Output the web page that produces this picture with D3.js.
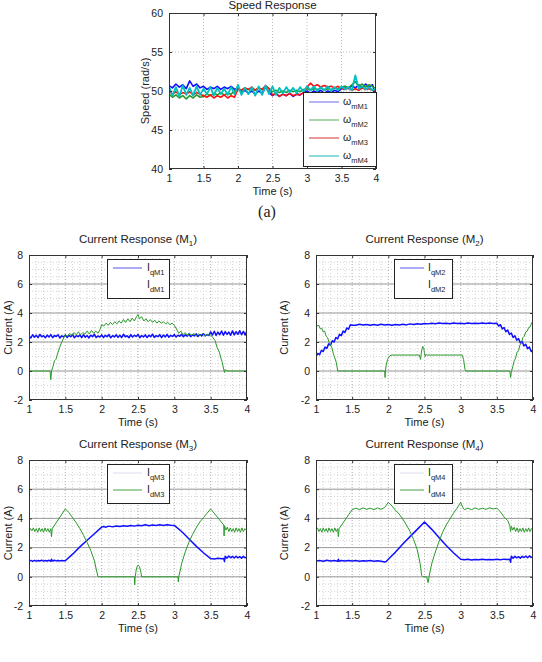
<!DOCTYPE html>
<html>
<head>
<meta charset="utf-8">
<script src="https://cdn.jsdelivr.net/npm/d3@7"></script>
<style>
  body { margin: 0; background: #fff; }
  svg text { font-family: "Liberation Sans", Arial, sans-serif; fill: #222; }
</style>
</head>
<body>
<script>
// ---- data ----
const timeTicks = [1, 1.5, 2, 2.5, 3, 3.5, 4];
const speedTicks = [40, 45, 50, 55, 60];
const currentTicks = [-2, 0, 2, 4, 6, 8];

// speed samples every 0.05 s from 1 s to 4 s
const speedTime = d3.range(61).map(i => 1 + i * 0.05);
const speedM1 = [50.7, 50.4, 50.9, 50.5, 50.8, 50.3, 51.3, 50.6, 50.9, 50.4,
  50.6, 50.2, 50.5, 50.3, 50.6, 50.2, 50.5, 50.3, 50.6, 50.2,
  50.4, 49.8, 50.1, 49.7, 50.0, 49.6, 50.0, 49.7, 50.5, 49.8,
  49.4, 49.7, 49.3, 49.6, 49.4, 49.7, 49.3, 49.6, 49.5, 49.8,
  50.0, 49.7, 50.0, 49.8, 50.1, 49.7, 50.0, 49.8, 50.1, 49.9,
  50.3, 50.6, 50.3, 50.7, 50.4, 50.8, 50.4, 50.9, 50.5, 50.8,
  49.2];
const speedM2 = [49.6, 49.2, 49.5, 49.1, 49.4, 49.0, 49.4, 49.1, 49.5, 49.2,
  49.3, 49.6, 49.4, 49.7, 49.5, 49.8, 49.5, 49.7, 49.6, 50.0,
  50.3, 50.1, 50.4, 50.2, 50.3, 50.1, 50.4, 50.2, 50.6, 50.3,
  49.9, 50.1, 49.8, 50.0, 49.8, 50.1, 49.9, 50.1, 49.9, 50.2,
  50.3, 50.1, 50.3, 50.2, 50.4, 50.1, 50.3, 50.2, 50.4, 50.3,
  50.5, 50.6, 50.4, 50.8, 51.2, 50.6, 50.9, 50.5, 50.8, 50.6,
  50.3];
const speedM3 = [50.0, 49.6, 49.9, 49.5, 49.8, 49.6, 49.9, 49.5, 49.8, 49.6,
  49.4, 49.2, 49.5, 49.1, 49.4, 49.2, 49.5, 49.1, 49.4, 49.2,
  50.3, 50.1, 50.4, 50.2, 50.5, 50.1, 50.4, 50.2, 50.7, 50.3,
  49.5, 49.7, 49.3, 49.6, 49.4, 49.7, 49.4, 49.6, 49.5, 49.8,
  50.5, 51.0, 50.6, 50.8, 50.5, 50.7, 50.5, 50.6, 50.4, 50.6,
  50.3, 50.2, 50.4, 50.1, 50.3, 50.1, 50.4, 50.2, 50.3, 50.1,
  49.8];
const speedM4 = [50.6, 49.4, 50.5, 49.3, 50.7, 49.5, 50.4, 49.4, 50.6, 49.5,
  50.3, 49.6, 50.5, 49.4, 50.4, 49.6, 50.3, 49.5, 50.5, 49.6,
  50.8, 49.5, 50.4, 49.6, 50.5, 49.4, 50.6, 49.5, 50.7, 49.6,
  50.6, 49.5, 50.4, 49.7, 50.5, 49.8, 50.4, 49.7, 50.5, 49.9,
  50.6, 50.1, 50.6, 50.0, 50.5, 50.1, 50.6, 50.0, 50.5, 50.1,
  50.6, 50.2, 50.5, 50.1, 52.0, 50.3, 50.6, 50.2, 50.5, 50.1,
  50.3];

// Iq of motor 1, samples every 0.025 s
const iqM1Time = d3.range(121).map(i => 1 + i * 0.025);
const iqM1 = [2.40, 2.28, 2.50, 2.33, 2.46, 2.30, 2.52, 2.36, 2.44, 2.29,
  2.48, 2.34, 2.51, 2.30, 2.45, 2.38, 2.50, 2.27, 2.43, 2.35,
  2.49, 2.31, 2.46, 2.36, 2.52, 2.29, 2.44, 2.37, 2.48, 2.30,
  2.50, 2.33, 2.45, 2.28, 2.47, 2.36, 2.53, 2.31, 2.42, 2.34,
  2.49, 2.30, 2.46, 2.37, 2.51, 2.29, 2.44, 2.35, 2.50, 2.32,
  2.47, 2.31, 2.53, 2.36, 2.43, 2.29, 2.50, 2.34, 2.46, 2.38,
  2.52, 2.30, 2.45, 2.35, 2.49, 2.31, 2.47, 2.36, 2.54, 2.32,
  2.44, 2.37, 2.50, 2.30, 2.48, 2.35, 2.52, 2.33, 2.46, 2.38,
  2.51, 2.34, 2.47, 2.39, 2.53, 2.36, 2.49, 2.40, 2.55, 2.37,
  2.50, 2.42, 2.56, 2.38, 2.52, 2.41, 2.57, 2.43, 2.51, 2.45,
  2.70, 2.48, 2.74, 2.45, 2.68, 2.50, 2.76, 2.47, 2.72, 2.52,
  2.69, 2.46, 2.77, 2.49, 2.71, 2.53, 2.78, 2.50, 2.73, 2.48,
  2.80];

// [time, current] pairs
const idM1 = [[1.0, 0], [1.29, 0], [1.3, -0.6], [1.31, 0], [1.33, 0.3], [1.35, 0.7], [1.37, 0.8], [1.4, 1.3],
  [1.42, 1.6], [1.45, 2.0], [1.48, 2.3], [1.5, 2.5], [1.53, 2.4], [1.56, 2.6], [1.59, 2.45], [1.62, 2.65],
  [1.65, 2.5], [1.68, 2.7], [1.71, 2.5], [1.74, 2.65], [1.77, 2.55], [1.8, 2.75], [1.83, 2.55], [1.86, 2.8],
  [1.89, 2.6], [1.92, 2.75], [1.95, 2.6], [1.98, 2.9], [2.0, 3.2], [2.03, 3.1], [2.06, 3.3], [2.09, 3.15],
  [2.12, 3.35], [2.15, 3.2], [2.18, 3.4], [2.21, 3.25], [2.24, 3.45], [2.27, 3.3], [2.3, 3.55], [2.33, 3.35],
  [2.36, 3.6], [2.39, 3.4], [2.42, 3.65], [2.45, 3.45], [2.48, 3.75], [2.5, 3.9], [2.52, 3.6], [2.55, 3.75],
  [2.58, 3.45], [2.61, 3.6], [2.64, 3.4], [2.67, 3.55], [2.7, 3.35], [2.73, 3.5], [2.76, 3.3], [2.79, 3.45],
  [2.82, 3.3], [2.85, 3.4], [2.88, 3.25], [2.91, 3.35], [2.94, 3.2], [2.97, 3.3], [3.0, 3.15], [3.03, 2.9],
  [3.06, 2.6], [3.09, 2.75], [3.12, 2.5], [3.15, 2.65], [3.18, 2.45], [3.21, 2.6], [3.24, 2.45], [3.27, 2.6],
  [3.3, 2.4], [3.33, 2.55], [3.36, 2.45], [3.39, 2.6], [3.42, 2.4], [3.45, 2.55], [3.48, 2.45], [3.5, 2.5],
  [3.53, 2.3], [3.56, 2.1], [3.59, 1.6], [3.62, 1.3], [3.64, 0.9], [3.66, 0.6], [3.68, 0.1], [3.69, -0.1],
  [3.7, 0.1], [3.72, 0], [4.0, 0]];

const iqM2 = [[1.0, 1.0], [1.025, 1.21], [1.05, 1.12], [1.075, 1.43], [1.1, 1.34], [1.125, 1.65], [1.15, 1.56],
  [1.175, 1.87], [1.2, 1.78], [1.225, 2.09], [1.25, 2.0], [1.275, 2.31], [1.3, 2.22], [1.325, 2.53], [1.35, 2.44],
  [1.375, 2.75], [1.4, 2.66], [1.425, 2.97], [1.45, 2.88], [1.475, 3.19], [1.5, 3.15],
  [1.55, 3.15], [1.6, 3.22], [1.65, 3.17], [1.7, 3.21], [1.75, 3.15], [1.8, 3.2], [1.85, 3.16], [1.9, 3.22],
  [1.95, 3.17], [2.0, 3.2], [2.05, 3.15], [2.1, 3.21], [2.15, 3.17], [2.2, 3.22], [2.25, 3.18], [2.3, 3.25],
  [2.35, 3.2], [2.4, 3.26], [2.45, 3.22], [2.5, 3.28], [2.55, 3.25], [2.6, 3.3], [2.65, 3.26], [2.7, 3.31],
  [2.75, 3.27], [2.8, 3.3], [2.85, 3.26], [2.9, 3.31], [2.95, 3.27], [3.0, 3.3], [3.05, 3.26], [3.1, 3.31],
  [3.15, 3.27], [3.2, 3.3], [3.25, 3.27], [3.3, 3.31], [3.35, 3.27], [3.4, 3.31], [3.45, 3.28], [3.5, 3.3],
  [3.525, 3.1], [3.55, 3.2], [3.575, 2.9], [3.6, 3.0], [3.625, 2.71], [3.65, 2.82], [3.675, 2.52], [3.7, 2.62],
  [3.725, 2.32], [3.75, 2.43], [3.775, 2.12], [3.8, 2.24], [3.825, 1.93], [3.85, 2.04], [3.875, 1.73],
  [3.9, 1.85], [3.925, 1.54], [3.95, 1.65], [3.975, 1.34], [4.0, 1.45]];

const idM2 = [[1.0, 3.25], [1.02, 3.1], [1.04, 3.15], [1.06, 2.9], [1.08, 2.95], [1.1, 2.7], [1.12, 2.75],
  [1.14, 2.4], [1.16, 2.3], [1.18, 2.0], [1.2, 1.8], [1.22, 1.6], [1.24, 1.2], [1.26, 0.9], [1.28, 0.6],
  [1.29, 0.3], [1.3, 0], [1.95, 0], [1.955, -0.45], [1.96, 0.0], [1.97, 0.4], [1.99, 0.8], [2.02, 1.05],
  [2.05, 1.1], [2.43, 1.1], [2.445, 0.8], [2.46, 1.4], [2.475, 1.7], [2.49, 1.55], [2.5, 1.2], [2.51, 1.0],
  [2.52, 1.15], [2.53, 1.1], [3.02, 1.1], [3.04, 0.8], [3.06, 0.1], [3.07, 0], [3.68, 0], [3.69, -0.45],
  [3.7, -0.1], [3.72, 0.3], [3.74, 0.7], [3.76, 0.9], [3.78, 1.3], [3.8, 1.4], [3.82, 1.8], [3.84, 1.9],
  [3.86, 2.3], [3.88, 2.4], [3.9, 2.7], [3.92, 2.75], [3.94, 3.0], [3.96, 3.05], [3.98, 3.3], [4.0, 3.45]];

const iqM3 = [[1.0, 1.05], [1.025, 1.12], [1.05, 1.06], [1.075, 1.13], [1.1, 1.07], [1.125, 1.12], [1.15, 1.08],
  [1.175, 1.14], [1.2, 1.07], [1.225, 1.12], [1.25, 1.08], [1.275, 1.13], [1.3, 1.06], [1.31, 1.2], [1.325, 1.08],
  [1.35, 1.13], [1.375, 1.09], [1.4, 1.12], [1.425, 1.09], [1.45, 1.11], [1.475, 1.1], [1.5, 1.1],
  [1.6, 1.55], [1.7, 2.05], [1.8, 2.5], [1.9, 2.95], [2.0, 3.4], [2.025, 3.45], [2.05, 3.4], [2.1, 3.47],
  [2.15, 3.42], [2.2, 3.48], [2.25, 3.44], [2.3, 3.5], [2.35, 3.46], [2.4, 3.52], [2.45, 3.47], [2.5, 3.53],
  [2.55, 3.49], [2.6, 3.56], [2.65, 3.5], [2.7, 3.55], [2.75, 3.51], [2.8, 3.56], [2.85, 3.52], [2.9, 3.57],
  [2.95, 3.53], [3.0, 3.52], [3.1, 3.1], [3.2, 2.6], [3.3, 2.1], [3.4, 1.65], [3.5, 1.25], [3.55, 1.22],
  [3.6, 1.27], [3.65, 1.23], [3.68, 1.26], [3.69, 1.05], [3.7, 1.4], [3.725, 1.28], [3.75, 1.42], [3.775, 1.3],
  [3.8, 1.4], [3.825, 1.29], [3.85, 1.41], [3.875, 1.3], [3.9, 1.38], [3.925, 1.28], [3.95, 1.4], [3.975, 1.3],
  [4.0, 1.36]];

const idM3 = [[1.0, 3.1], [1.02, 3.3], [1.04, 3.15], [1.06, 3.35], [1.08, 3.1], [1.1, 3.3], [1.12, 3.05],
  [1.14, 3.35], [1.16, 3.1], [1.18, 3.3], [1.2, 3.05], [1.22, 3.35], [1.24, 3.1], [1.26, 3.3], [1.28, 3.05],
  [1.3, 3.3], [1.31, 2.75], [1.32, 3.3], [1.5, 4.65], [1.55, 4.4], [1.6, 4.05], [1.65, 3.7], [1.7, 3.3],
  [1.75, 2.85], [1.8, 2.35], [1.85, 1.8], [1.9, 1.1], [1.93, 0.4], [1.95, 0], [2.45, 0], [2.455, -0.55],
  [2.46, -0.1], [2.47, 0.3], [2.48, 0.6], [2.5, 0.8], [2.52, 0.7], [2.54, 0.3], [2.55, 0], [3.05, 0],
  [3.055, -0.35], [3.06, 0], [3.08, 0.4], [3.1, 0.9], [3.15, 1.7], [3.2, 2.35], [3.25, 2.9], [3.3, 3.35],
  [3.35, 3.75], [3.4, 4.05], [3.45, 4.35], [3.5, 4.65], [3.68, 3.55], [3.685, 2.8], [3.69, 3.5], [3.71, 3.2],
  [3.73, 3.4], [3.75, 3.1], [3.77, 3.35], [3.79, 3.1], [3.81, 3.3], [3.83, 3.05], [3.85, 3.35], [3.87, 3.1],
  [3.89, 3.3], [3.91, 3.05], [3.93, 3.35], [3.95, 3.1], [3.97, 3.3], [4.0, 3.15]];

const iqM4 = [[1.0, 1.08], [1.05, 1.12], [1.1, 1.07], [1.15, 1.13], [1.2, 1.08], [1.25, 1.12], [1.3, 1.07],
  [1.31, 1.2], [1.32, 1.06], [1.35, 1.12], [1.4, 1.08], [1.45, 1.11], [1.5, 1.08], [1.55, 1.11], [1.6, 1.07],
  [1.65, 1.1], [1.7, 1.08], [1.75, 1.11], [1.8, 1.07], [1.85, 1.1], [1.9, 1.06], [1.95, 1.02], [1.97, 1.05],
  [2.0, 1.2], [2.1, 1.7], [2.2, 2.25], [2.3, 2.75], [2.4, 3.25], [2.5, 3.75], [2.6, 3.25], [2.7, 2.7],
  [2.8, 2.15], [2.9, 1.65], [3.0, 1.2], [3.05, 1.17], [3.1, 1.2], [3.15, 1.15], [3.2, 1.19], [3.25, 1.16],
  [3.3, 1.2], [3.35, 1.16], [3.4, 1.19], [3.45, 1.17], [3.5, 1.2], [3.55, 1.17], [3.6, 1.21], [3.65, 1.18],
  [3.68, 1.2], [3.69, 1.0], [3.7, 1.4], [3.725, 1.28], [3.75, 1.4], [3.775, 1.3], [3.8, 1.38], [3.825, 1.28],
  [3.85, 1.4], [3.875, 1.32], [3.9, 1.42], [3.925, 1.3], [3.95, 1.43], [3.975, 1.33], [4.0, 1.4]];

const idM4 = [[1.0, 3.2], [1.02, 3.35], [1.04, 3.1], [1.06, 3.3], [1.08, 3.05], [1.1, 3.35], [1.12, 3.1],
  [1.14, 3.3], [1.16, 3.05], [1.18, 3.35], [1.2, 3.1], [1.22, 3.3], [1.24, 3.05], [1.26, 3.35], [1.28, 3.1],
  [1.3, 3.3], [1.31, 2.75], [1.32, 3.3], [1.5, 4.6], [1.55, 4.7], [1.6, 4.6], [1.65, 4.72], [1.7, 4.62],
  [1.75, 4.7], [1.8, 4.6], [1.85, 4.72], [1.9, 4.62], [1.95, 4.75], [2.0, 5.1], [2.05, 4.85], [2.1, 4.55],
  [2.15, 4.3], [2.2, 3.95], [2.25, 3.55], [2.3, 3.1], [2.35, 2.55], [2.4, 1.85], [2.44, 0.9], [2.46, 0.1],
  [2.48, 0], [2.53, 0], [2.55, -0.4], [2.57, 0.2], [2.6, 0.9], [2.65, 1.7], [2.7, 2.4], [2.75, 3.05],
  [2.8, 3.55], [2.85, 3.95], [2.9, 4.35], [2.95, 4.7], [3.0, 5.1], [3.03, 4.75], [3.05, 4.6], [3.1, 4.7],
  [3.15, 4.6], [3.2, 4.72], [3.25, 4.62], [3.3, 4.7], [3.35, 4.62], [3.4, 4.73], [3.45, 4.65], [3.5, 4.7],
  [3.55, 4.45], [3.6, 4.1], [3.65, 3.85], [3.68, 3.5], [3.69, 3.1], [3.7, 3.45], [3.72, 3.2], [3.74, 3.4],
  [3.76, 3.1], [3.78, 3.35], [3.8, 3.05], [3.82, 3.3], [3.84, 3.1], [3.86, 3.35], [3.88, 3.05], [3.9, 3.3],
  [3.92, 3.1], [3.94, 3.35], [3.96, 3.1], [3.98, 3.3], [4.0, 3.2]];

// ---- drawing ----
const width = 542, height = 662;
const svg = d3.select("body").append("svg")
  .attr("width", width)
  .attr("height", height);

const BLUE = "#1010ff", GREEN = "#2a982a", RED = "#ff1010", CYAN = "#00c0c0";
const zip = (ts, vs) => vs.map((v, i) => [ts[i], v]);

function drawPanel(p) {
  const x = d3.scaleLinear().domain([1, 4]).range([p.left, p.right]);
  const y = d3.scaleLinear().domain(p.yDomain).range([p.bottom, p.top]);
  const g = svg.append("g");

  g.append("rect")
    .attr("x", p.left).attr("y", p.top)
    .attr("width", p.right - p.left).attr("height", p.bottom - p.top)
    .style("fill", "#fff");

  // minor dotted grid
  if (p.minor) {
    g.selectAll(".vmin").data(d3.range(1.1, 3.95, 0.1)).enter().append("line")
      .attr("x1", d => x(d)).attr("x2", d => x(d))
      .attr("y1", p.top).attr("y2", p.bottom)
      .style("stroke", "#d4d4d4").style("stroke-dasharray", "1,2");
    g.selectAll(".hmin").data(d3.range(p.yDomain[0] + 0.5, p.yDomain[1], 0.5)).enter().append("line")
      .attr("x1", p.left).attr("x2", p.right)
      .attr("y1", d => y(d)).attr("y2", d => y(d))
      .style("stroke", "#d4d4d4").style("stroke-dasharray", "1,2");
  }
  // major grid
  g.selectAll(".vmaj").data(timeTicks.slice(1, -1)).enter().append("line")
    .attr("x1", d => x(d)).attr("x2", d => x(d))
    .attr("y1", p.top).attr("y2", p.bottom)
    .style("stroke", "#b8b8b8").style("stroke-dasharray", "1,2");
  g.selectAll(".hmaj").data(p.yTicks.slice(1, -1)).enter().append("line")
    .attr("x1", p.left).attr("x2", p.right)
    .attr("y1", d => y(d)).attr("y2", d => y(d))
    .style("stroke", p.solidH ? "#9a9a9a" : "#b8b8b8")
    .style("stroke-dasharray", p.solidH ? null : "1,2");

  // series
  const clipId = "clip" + p.id;
  svg.append("clipPath").attr("id", clipId).append("rect")
    .attr("x", p.left).attr("y", p.top)
    .attr("width", p.right - p.left).attr("height", p.bottom - p.top);
  const line = d3.line().x(d => x(d[0])).y(d => y(d[1]));
  g.append("g").attr("clip-path", `url(#${clipId})`)
    .selectAll("path").data(p.series).enter().append("path")
    .attr("d", s => line(s.values))
    .style("fill", "none")
    .style("stroke", s => s.color)
    .style("stroke-width", s => s.width || 1)
    .style("stroke-linejoin", "round");

  // axes, ticks pointing inward (matlab style)
  const fmt = d => String(d);
  const styleAxis = a => {
    a.select(".domain").remove();
    a.selectAll("line").style("stroke", "#333");
    a.selectAll("text").style("font-size", "10.5px").style("fill", "#222");
  };
  g.append("g").attr("transform", `translate(0,${p.bottom})`)
    .call(d3.axisBottom(x).tickValues(timeTicks).tickFormat(fmt).tickSize(-3).tickPadding(6))
    .call(styleAxis);
  g.append("g").attr("transform", `translate(0,${p.top})`)
    .call(d3.axisTop(x).tickValues(timeTicks).tickFormat("").tickSize(-3))
    .call(styleAxis);
  g.append("g").attr("transform", `translate(${p.left},0)`)
    .call(d3.axisLeft(y).tickValues(p.yTicks).tickFormat(fmt).tickSize(-3).tickPadding(6))
    .call(styleAxis);
  g.append("g").attr("transform", `translate(${p.right},0)`)
    .call(d3.axisRight(y).tickValues(p.yTicks).tickFormat("").tickSize(-3))
    .call(styleAxis);

  g.append("rect")
    .attr("x", p.left + 0.5).attr("y", p.top + 0.5)
    .attr("width", p.right - p.left - 1).attr("height", p.bottom - p.top - 1)
    .style("fill", "none").style("stroke", "#333").style("stroke-width", 1);

  // title
  const t = g.append("text")
    .attr("x", (p.left + p.right) / 2).attr("y", p.titleY)
    .attr("text-anchor", "middle").style("font-size", "11.5px");
  t.append("tspan").text(p.title);
  if (p.titleSub) {
    t.append("tspan").attr("dy", 3).style("font-size", "8px").text(p.titleSub);
    t.append("tspan").attr("dy", -3).text(")");
  }

  // axis labels
  g.append("text")
    .attr("x", (p.left + p.right) / 2).attr("y", p.bottom + 26)
    .attr("text-anchor", "middle").style("font-size", "11px")
    .text("Time (s)");
  g.append("text")
    .attr("transform", `translate(${p.left - p.yLabelOff},${(p.top + p.bottom) / 2}) rotate(-90)`)
    .attr("text-anchor", "middle").style("font-size", "11px")
    .text(p.yLabel);

  // legend
  const L = p.legend;
  g.append("rect")
    .attr("x", L.x + 0.5).attr("y", L.y + 0.5)
    .attr("width", L.w).attr("height", L.h)
    .style("fill", "#fff").style("stroke", "#222");
  L.items.forEach((it, i) => {
    const cy = L.y + L.first + i * L.step;
    if (it.lineColor) {
      g.append("line")
        .attr("x1", L.x + L.lx1).attr("x2", L.x + L.lx2)
        .attr("y1", cy).attr("y2", cy)
        .style("stroke", it.lineColor).style("stroke-width", 1.3);
    }
    const tx = g.append("text")
      .attr("x", L.x + L.tx).attr("y", cy + 3)
      .style("font-size", "10.5px");
    tx.append("tspan").text(it.main);
    tx.append("tspan").attr("dy", 4).style("font-size", "7.5px").text(it.sub);
  });
}

const speedPanel = {
  id: "s", left: 169, right: 376, top: 13, bottom: 169, titleY: 9,
  yDomain: [40, 60], yTicks: speedTicks, minor: false, solidH: false,
  title: "Speed Response", yLabel: "Speed (rad/s)", yLabelOff: 20,
  series: [
    { values: zip(speedTime, speedM1), color: BLUE, width: 1.6 },
    { values: zip(speedTime, speedM2), color: GREEN, width: 1.6 },
    { values: zip(speedTime, speedM3), color: RED, width: 1.6 },
    { values: zip(speedTime, speedM4), color: CYAN, width: 1.8 }
  ],
  legend: {
    x: 303, y: 92, w: 73, h: 74, first: 10, step: 18, lx1: 6, lx2: 36, tx: 40,
    items: [
      { main: "ω", sub: "mM1", lineColor: "#8c8cf0" },
      { main: "ω", sub: "mM2", lineColor: "#7fbf7f" },
      { main: "ω", sub: "mM3", lineColor: "#e06060" },
      { main: "ω", sub: "mM4", lineColor: "#50c8c8" }
    ]
  }
};
drawPanel(speedPanel);

const currentPanels = [
  { id: "1", left: 29, right: 247, top: 255, bottom: 400, sub: "1",
    q: zip(iqM1Time, iqM1), d: idM1, qLeg: "#7d7df0", dLeg: null, lx: 107 },
  { id: "2", left: 316, right: 533, top: 255, bottom: 400, sub: "2",
    q: iqM2, d: idM2, qLeg: "#7d7df0", dLeg: null, lx: 394 },
  { id: "3", left: 29, right: 247, top: 460, bottom: 606, sub: "3",
    q: iqM3, d: idM3, qLeg: "#e4e4f4", dLeg: "#6fb86f", lx: 107 },
  { id: "4", left: 316, right: 533, top: 460, bottom: 606, sub: "4",
    q: iqM4, d: idM4, qLeg: "#e4e4f4", dLeg: "#6fb86f", lx: 394 }
];

currentPanels.forEach(c => {
  const wide = c.lx === 107;
  drawPanel({
    id: c.id, left: c.left, right: c.right, top: c.top, bottom: c.bottom, titleY: c.top - 12,
    yDomain: [-2, 8], yTicks: currentTicks, minor: true, solidH: true,
    title: "Current Response (M", titleSub: c.sub,
    yLabel: "Current (A)", yLabelOff: wide ? 17 : 28,
    series: [
      { values: c.q, color: BLUE, width: 1.5 },
      { values: c.d, color: GREEN, width: 1 }
    ],
    legend: {
      x: c.lx, y: c.top + 4, w: wide ? 62 : 58, h: 39, first: 9, step: 17,
      lx1: 6, lx2: wide ? 35 : 30, tx: wide ? 40 : 34,
      items: [
        { main: "I", sub: "qM" + c.sub, lineColor: c.qLeg },
        { main: "I", sub: "dM" + c.sub, lineColor: c.dLeg }
      ]
    }
  });
});

// panel caption
svg.append("text")
  .attr("x", 267).attr("y", 217)
  .attr("text-anchor", "middle")
  .style("font-family", "'Liberation Serif', 'Times New Roman', serif")
  .style("font-size", "16px")
  .text("(a)");
</script>
</body>
</html>
